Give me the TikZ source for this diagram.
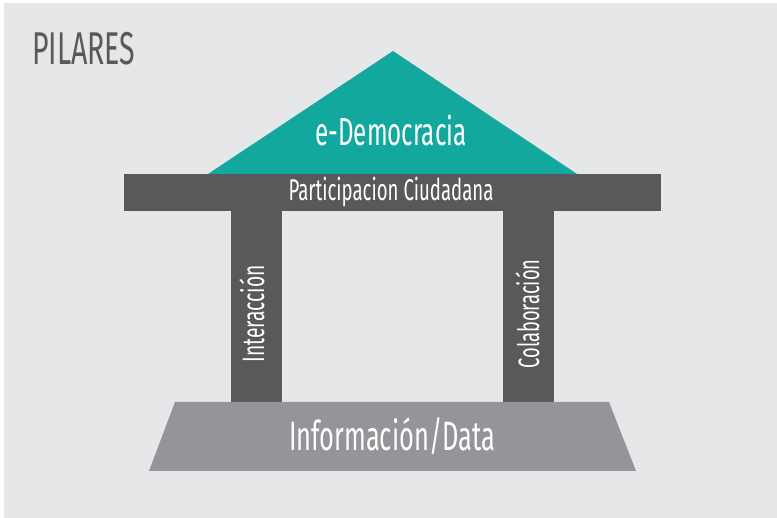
\documentclass[tikz,border=0pt]{standalone}
\usepackage{fontspec}
\newfontfamily\pilarfont[FakeStretch=0.62]{Fira Sans}
\definecolor{fondo}{HTML}{E6E7E8}
\definecolor{techo}{HTML}{13A89E}
\definecolor{oscuro}{HTML}{58595B}
\definecolor{base}{HTML}{939598}
\begin{document}
\begin{tikzpicture}[x=1pt,y=-1pt]

      \useasboundingbox (0,0) rectangle (777,518);
      \fill[fondo] (4,3) rectangle (777,518);

      % edificio
      \fill[techo]  (208,174) -- (393,51) -- (577,174) -- cycle;
      \fill[oscuro] (124,174) rectangle (661,211);
      \fill[oscuro] (231,211) rectangle (282,402);
      \fill[oscuro] (503,211) rectangle (554,402);
      \fill[base]   (175,402) -- (609,402) -- (636,471) -- (149,471) -- cycle;

      \begin{scope}[every node/.style={inner sep=0pt,text=white,font=\pilarfont}]
        \node[text=oscuro,anchor=base west,font=\pilarfont\fontsize{46}{46}\selectfont]
          (titulo) at (32,65) {PILARES};
        \node[anchor=base,font=\pilarfont\fontsize{39}{39}\selectfont]
          (demo) at (391,146) {e-Democracia};
        \node[anchor=base,font=\pilarfont\fontsize{30}{30}\selectfont]
          (part) at (391,201) {Participacion Ciudadana};
        \node[anchor=base,font=\pilarfont\fontsize{41}{41}\selectfont]
          (info) at (392,451) {Información/Data};
        \node[anchor=base,rotate=90,font=\pilarfont\fontsize{31}{31}\selectfont]
          (inter) at (264,314) {Interacción};
        \node[anchor=base,rotate=90,font=\pilarfont\fontsize{29.5}{29.5}\selectfont]
          (colab) at (539,314) {Colaboración};
      \end{scope}

    \end{tikzpicture}
\end{document}
